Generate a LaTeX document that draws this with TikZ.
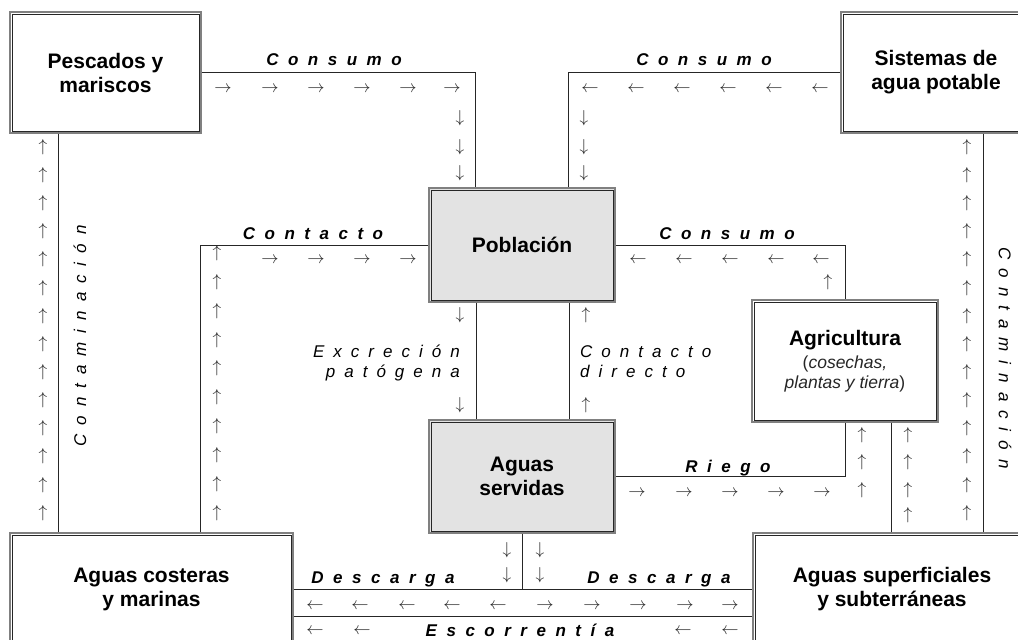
\documentclass[tikz,border=0pt]{standalone}
\usepackage{fontspec}
\setmainfont{Liberation Sans}
\usetikzlibrary{calc}
\makeatletter
\newcommand\spaced[2]{\begingroup\def\sp@sep{}\@tfor\sp@c:=#2\do{\sp@sep\sp@c\def\sp@sep{\hspace{#1}}}\endgroup}
\makeatother
\begin{document}
\begin{tikzpicture}[x=1pt,y=-1pt,
  box/.style={draw=black!50, line width=1.6pt, inner sep=0pt, align=center,
    font=\bfseries\fontsize{21}{24}\selectfont},
  shaded/.style={box, fill=black!11},
  innerline/.style={draw=black!85, line width=0.8pt},
  conn/.style={draw=black!85, line width=0.9pt},
  arr/.style={inner sep=0pt, text=black!85, font=\fontsize{18}{18}\selectfont},
  lab/.style={inner sep=0pt, font=\bfseries\itshape\fontsize{17}{20}\selectfont},
  ilab/.style={inner sep=0pt, font=\itshape\fontsize{17}{20}\selectfont},
  ttl/.style={inner sep=0pt, align=center, font=\bfseries\fontsize{21}{24}\selectfont}
]
\useasboundingbox (0,0) rectangle (1018,640);

% boxes
\node[box, minimum width=191pt, minimum height=121pt] (pesc) at (105.5,72.5) {Pescados y\\mariscos};
\node[box, minimum width=190pt, minimum height=121pt] (sis) at (936,72.5) {Sistemas de\\agua potable};
\node[shaded, minimum width=186pt, minimum height=114pt] (pob) at (522,245) {Población};
\node[shaded, minimum width=186pt, minimum height=113pt] (serv) at (522,476.5) {Aguas\\servidas};
\node[box, minimum width=186pt, minimum height=122pt] (agr) at (845,361) {};
\node[box, minimum width=283pt, minimum height=127pt] (cost) at (151.5,596.5) {};
\node[box, minimum width=278pt, minimum height=127pt] (sup) at (892,596.5) {};
\foreach \n in {pesc,sis,pob,serv,agr,cost,sup}
  \draw[innerline] ([xshift=2.8pt,yshift=-2.8pt]\n.north west) rectangle ([xshift=-2.8pt,yshift=2.8pt]\n.south east);

\node[ttl] (agrt) at (845,340) {Agricultura};
\node[inner sep=0pt, align=center, text=black!85, font=\fontsize{17.5}{20}\selectfont] (agrs) at (845,374) {(\textit{cosechas,}\\\textit{plantas y tierra})};
\node[ttl] (costt) at (151.5,589.5) {Aguas costeras\\y marinas};
\node[ttl] (supt) at (892,589) {Aguas superficiales\\y subterráneas};

% connectors
\coordinate (xcl) at (58,0);
\coordinate (xcc) at (200,0);
\coordinate (xca) at (891,0);
\coordinate (xcr) at (983,0);
\coordinate (yh1) at (0,589);
\coordinate (yh2) at (0,616);
\draw[conn] (pesc.east) -| ([xshift=-47pt]pob.north);
\draw[conn] (sis.west) -| ([xshift=46pt]pob.north);
\draw[conn] (pesc.south -| xcl) -- (cost.north -| xcl);
\draw[conn] (cost.north -| xcc) |- (pob.west);
\draw[conn] (pob.east) -| (agr.north);
\draw[conn] ([xshift=-46pt]pob.south) -- ([xshift=-46pt]serv.north);
\draw[conn] ([xshift=47pt]pob.south) -- ([xshift=47pt]serv.north);
\draw[conn] (serv.east) -| (agr.south);
\draw[conn] (agr.south -| xca) -- (sup.north -| xca);
\draw[conn] (sis.south -| xcr) -- (sup.north -| xcr);
\draw[conn] (serv.south) -- (serv.south |- yh1);
\draw[conn] (cost.east |- yh1) -- (sup.west |- yh1);
\draw[conn] (cost.east |- yh2) -- (sup.west |- yh2);

% arrow glyphs
\foreach \x [count=\i] in {223,270,316,362,408,452} \node[arr] (tlr\i) at (\x,89) {$\rightarrow$};
\foreach \y [count=\i] in {118,147,173} \node[arr] (tld\i) at (460,\y) {$\downarrow$};
\foreach \x [count=\i] in {590,636,682,728,774,820} \node[arr] (trl\i) at (\x,89) {$\leftarrow$};
\foreach \y [count=\i] in {118,147,173} \node[arr] (trd\i) at (584,\y) {$\downarrow$};
\foreach \i in {0,...,13} \node[arr] (lcu\i) at (43,{147+28.15*\i}) {$\uparrow$};
\foreach \i in {0,...,13} \node[arr] (rcu\i) at (967,{147+28.15*\i}) {$\uparrow$};
\foreach \i in {0,...,9} \node[arr] (ccu\i) at (217,{253+28.9*\i}) {$\uparrow$};
\foreach \x [count=\i] in {270,316,362,408} \node[arr] (ccr\i) at (\x,260) {$\rightarrow$};
\foreach \x [count=\i] in {638,684,730,776,821} \node[arr] (mcl\i) at (\x,260) {$\leftarrow$};
\node[arr] (mcu) at (828,282) {$\uparrow$};
\foreach \y [count=\i] in {315,405} \node[arr] (exd\i) at (460,\y) {$\downarrow$};
\foreach \y [count=\i] in {315,405} \node[arr] (cdu\i) at (586,\y) {$\uparrow$};
\foreach \x [count=\i] in {637,684,730,776,822} \node[arr] (rgr\i) at (\x,493) {$\rightarrow$};
\foreach \y [count=\i] in {435,462,490} \node[arr] (rgu\i) at (862,\y) {$\uparrow$};
\foreach \y [count=\i] in {435,462,490,515} \node[arr] (agu\i) at (908,\y) {$\uparrow$};
\foreach \y [count=\i] in {550,575} {
  \node[arr] (bdl\i) at (507,\y) {$\downarrow$};
  \node[arr] (bdr\i) at (540,\y) {$\downarrow$};
}
\foreach \x [count=\i] in {315,360,407,452,498} \node[arr] (r1l\i) at (\x,606) {$\leftarrow$};
\foreach \x [count=\i] in {545,592,638,685,730} \node[arr] (r1r\i) at (\x,606) {$\rightarrow$};
\foreach \x [count=\i] in {315,362,683,730} \node[arr] (r2l\i) at (\x,631) {$\leftarrow$};

% labels
\node[lab, anchor=base] (l1) at (334,65) {\spaced{9.5pt}{Consumo}};
\node[lab, anchor=base] (l2) at (704,65) {\spaced{9.5pt}{Consumo}};
\node[lab, anchor=base] (l3) at (313,239) {\spaced{9.5pt}{Contacto}};
\node[lab, anchor=base] (l4) at (727,239) {\spaced{9.5pt}{Consumo}};
\node[ilab, anchor=base east] (l5) at (460,357) {\spaced{9pt}{Excreción}};
\node[ilab, anchor=base east] (l6) at (460,377) {\spaced{9pt}{patógena}};
\node[ilab, anchor=base west] (l7) at (580,357) {\spaced{9pt}{Contacto}};
\node[ilab, anchor=base west] (l8) at (580,377) {\spaced{9pt}{directo}};
\node[lab, anchor=base] (l9) at (728,472) {\spaced{9.5pt}{Riego}};
\node[ilab, rotate=90] (l10) at (80,336) {\spaced{9pt}{Contaminación}};
\node[ilab, rotate=-90] (l11) at (1005,358) {\spaced{9pt}{Contaminación}};
\node[lab, anchor=base] (l12) at (383,583) {\spaced{9.5pt}{Descarga}};
\node[lab, anchor=base] (l13) at (659,583) {\spaced{9.5pt}{Descarga}};
\node[lab, anchor=base] (l14) at (520,636) {\spaced{9.5pt}{Escorrentía}};
\end{tikzpicture}
\end{document}
